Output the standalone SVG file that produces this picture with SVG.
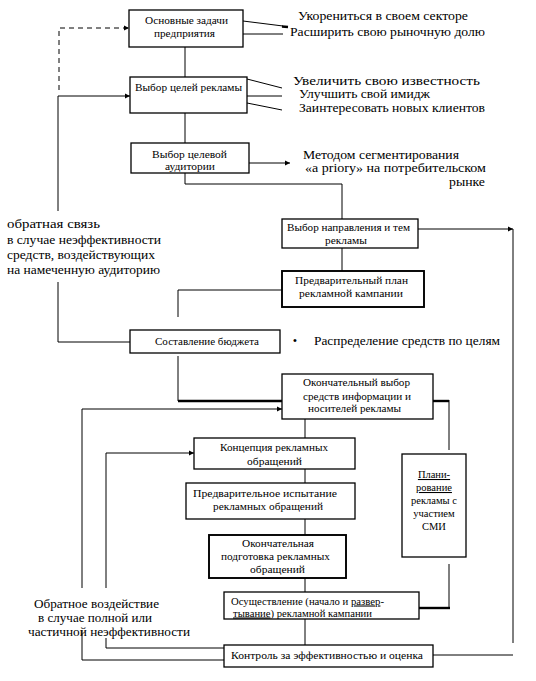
<svg xmlns="http://www.w3.org/2000/svg" width="536" height="681" viewBox="0 0 536 681">
<defs>
<style>
.box{fill:#fff;stroke:#000;stroke-width:1.3}
.thick{stroke-width:1.9}
.bt{font-size:10.5px;fill:#000}
.st{font-size:12.5px;fill:#000}
.ln{fill:none;stroke:#000;stroke-width:1}
.tl{fill:none;stroke:#000;stroke-width:2.4}
.ds{fill:none;stroke:#000;stroke-width:1;stroke-dasharray:5 4}
.ar{marker-end:url(#arr)}
</style>
<marker id="arr" markerWidth="6" markerHeight="6" refX="5" refY="3" orient="auto" markerUnits="userSpaceOnUse">
<path d="M0,0.5 L5,3 L0,5.5 Z" fill="#000"/>
</marker>
</defs>
<rect width="536" height="681" fill="#fff"/>

<g id="connectors">
<line class="ln" x1="185" y1="47" x2="185" y2="77"/>
<line class="ln" x1="185" y1="113" x2="185" y2="143"/>
<line class="ln ar" x1="249" y1="163" x2="290" y2="163"/>
<polyline class="ln" points="185,173 185,184 342,184 342,219"/>
<line class="ln" x1="342" y1="248" x2="342" y2="271"/>
<line class="ln ar" x1="418" y1="229" x2="513" y2="229"/>
<line class="ln" x1="513" y1="229" x2="513" y2="643"/>
<line class="ln" x1="433" y1="655" x2="513" y2="655"/>
<polyline class="ln" points="282,290 178,290 178,317"/>
<line class="ln" x1="178" y1="356" x2="178" y2="401"/>
<line class="tl" x1="178" y1="401" x2="282" y2="401"/>
<line class="tl" x1="433" y1="401" x2="449" y2="401"/>
<line class="ln" x1="449" y1="400" x2="449" y2="450"/>
<line class="ln" x1="449" y1="564" x2="449" y2="608"/>
<line class="tl" x1="419" y1="608" x2="450" y2="608"/>
<polyline class="ds ar" points="59,90 59,28 129,28"/>
<polyline class="ln ar" points="58,211 58,96 130,96"/>
<polyline class="ln" points="58,282 58,342 130,342"/>
<line class="ln" x1="305" y1="419" x2="305" y2="438"/>
<polyline class="ln ar" points="82,588 82,409 282,409"/>
<polyline class="ln ar" points="106,588 106,453 194,453"/>
<polyline class="ln" points="106,638 106,648 224,648"/>
<polyline class="ln" points="82,630 82,660 224,660"/>
<line class="ln" x1="305" y1="469" x2="305" y2="483"/>
<line class="ln" x1="305" y1="519" x2="305" y2="535"/>
<line class="ln" x1="305" y1="578" x2="305" y2="592"/>
<line class="ln" x1="305" y1="619" x2="305" y2="645"/>
<line class="ln" x1="243" y1="21" x2="283" y2="26"/>
<line class="tl" x1="282" y1="26.5" x2="288" y2="27"/>
<line class="ln" x1="243" y1="34" x2="283" y2="34"/>
<line class="ln" x1="247" y1="79" x2="282" y2="88"/>
<line class="ln" x1="247" y1="96" x2="282" y2="96"/>
<line class="ln" x1="247" y1="103" x2="282" y2="110"/>
</g>

<g font-family="Liberation Serif, Times New Roman, DejaVu Serif, serif">
<g id="n1"><rect class="box" x="129" y="10" width="114" height="37"/>
<text class="bt" x="145" y="23.5" textLength="83" lengthAdjust="spacingAndGlyphs">Основные задачи</text>
<text class="bt" x="154" y="37" textLength="61" lengthAdjust="spacingAndGlyphs">предприятия</text></g>

<g id="n2"><rect class="box" x="130" y="77" width="117" height="36"/>
<text class="bt" x="135" y="90.5" textLength="107" lengthAdjust="spacingAndGlyphs">Выбор целей рекламы</text></g>

<g id="n3"><rect class="box" x="131" y="143" width="118" height="30"/>
<text class="bt" x="152" y="157.5" textLength="75" lengthAdjust="spacingAndGlyphs">Выбор целевой</text>
<text class="bt" x="165" y="169.5" textLength="50" lengthAdjust="spacingAndGlyphs">аудитории</text></g>

<g id="n4"><rect class="box" x="282" y="219" width="136" height="29"/>
<text class="bt" x="287" y="230.5" textLength="123" lengthAdjust="spacingAndGlyphs">Выбор направления и тем</text>
<text class="bt" x="325" y="243.5" textLength="42" lengthAdjust="spacingAndGlyphs">рекламы</text></g>

<g id="n5"><rect class="box thick" x="282" y="271" width="142" height="36"/>
<text class="bt" x="295" y="283.5" textLength="113" lengthAdjust="spacingAndGlyphs">Предварительный план</text>
<text class="bt" x="299" y="296.5" textLength="104" lengthAdjust="spacingAndGlyphs">рекламной кампании</text></g>

<g id="n6"><rect class="box" x="130" y="330" width="150" height="23"/>
<text class="bt" x="155" y="344.5" textLength="104" lengthAdjust="spacingAndGlyphs">Составление бюджета</text></g>

<g id="n7"><rect class="box" x="282" y="374" width="151" height="45"/>
<text class="bt" x="303" y="385.5" textLength="107" lengthAdjust="spacingAndGlyphs">Окончательный выбор</text>
<text class="bt" x="303" y="399.5" textLength="108" lengthAdjust="spacingAndGlyphs">средств информации и</text>
<text class="bt" x="308" y="411.5" textLength="93" lengthAdjust="spacingAndGlyphs">носителей рекламы</text></g>

<g id="n8"><rect class="box" x="402" y="454" width="64" height="103"/>
<text class="bt" x="434" y="478" text-anchor="middle" text-decoration="underline">Плани-</text>
<text class="bt" x="434" y="491" text-anchor="middle" text-decoration="underline">рование</text>
<text class="bt" x="434" y="504" text-anchor="middle">рекламы с</text>
<text class="bt" x="434" y="517" text-anchor="middle">участием</text>
<text class="bt" x="434" y="530" text-anchor="middle">СМИ</text></g>

<g id="n9"><rect class="box" x="194" y="438" width="161" height="31"/>
<text class="bt" x="220" y="450.5" textLength="108" lengthAdjust="spacingAndGlyphs">Концепция рекламных</text>
<text class="bt" x="247" y="464.5" textLength="55" lengthAdjust="spacingAndGlyphs">обращений</text></g>

<g id="n10"><rect class="box" x="186" y="483" width="169" height="36"/>
<text class="bt" x="193" y="497" textLength="144" lengthAdjust="spacingAndGlyphs">Предварительное испытание</text>
<text class="bt" x="213" y="510" textLength="110" lengthAdjust="spacingAndGlyphs">рекламных обращений</text></g>

<g id="n11"><rect class="box thick" x="209" y="535" width="137" height="43"/>
<text class="bt" x="242" y="547" textLength="72" lengthAdjust="spacingAndGlyphs">Окончательная</text>
<text class="bt" x="221" y="560" textLength="109" lengthAdjust="spacingAndGlyphs">подготовка рекламных</text>
<text class="bt" x="250" y="573" textLength="55" lengthAdjust="spacingAndGlyphs">обращений</text></g>

<g id="n12"><rect class="box" x="224" y="592" width="195" height="27"/>
<text class="bt" x="231" y="604.5" textLength="153" lengthAdjust="spacingAndGlyphs">Осуществление (начало и <tspan text-decoration="underline">развер</tspan>-</text>
<text class="bt" x="233" y="616.5" textLength="139" lengthAdjust="spacingAndGlyphs"><tspan text-decoration="underline">тывание</tspan>) рекламной кампании</text></g>

<g id="n13"><rect class="box" x="224" y="645" width="209" height="22"/>
<text class="bt" x="231" y="659" textLength="192" lengthAdjust="spacingAndGlyphs">Контроль за эффективностью и оценка</text></g>

<g id="labels">
<text class="st" x="298" y="20" textLength="170" lengthAdjust="spacingAndGlyphs">Укорениться в своем секторе</text>
<text class="st" x="290" y="36" textLength="195" lengthAdjust="spacingAndGlyphs">Расширить свою рыночную долю</text>
<text class="st" x="293" y="85" textLength="187" lengthAdjust="spacingAndGlyphs">Увеличить свою известность</text>
<text class="st" x="299" y="98" textLength="131" lengthAdjust="spacingAndGlyphs">Улучшить свой имидж</text>
<text class="st" x="299" y="112" textLength="186" lengthAdjust="spacingAndGlyphs">Заинтересовать новых клиентов</text>
<text class="st" x="303" y="159" textLength="156" lengthAdjust="spacingAndGlyphs">Методом сегментирования</text>
<text class="st" x="305" y="172" textLength="181" lengthAdjust="spacingAndGlyphs">«a priory» на потребительском</text>
<text class="st" x="449" y="186" textLength="36" lengthAdjust="spacingAndGlyphs">рынке</text>
<text class="st" x="295" y="345" text-anchor="middle">•</text>
<text class="st" x="314" y="345" textLength="186" lengthAdjust="spacingAndGlyphs">Распределение средств по целям</text>
<text class="st" x="7" y="228" textLength="93" lengthAdjust="spacingAndGlyphs">обратная связь</text>
<text class="st" x="7" y="244" textLength="154" lengthAdjust="spacingAndGlyphs">в случае неэффективности</text>
<text class="st" x="7" y="259" textLength="148" lengthAdjust="spacingAndGlyphs">средств, воздействующих</text>
<text class="st" x="7" y="274" textLength="153" lengthAdjust="spacingAndGlyphs">на намеченную аудиторию</text>
<text class="st" x="34" y="608" textLength="125" lengthAdjust="spacingAndGlyphs">Обратное воздействие</text>
<text class="st" x="38" y="622" textLength="114" lengthAdjust="spacingAndGlyphs">в случае полной или</text>
<text class="st" x="28" y="636" textLength="162" lengthAdjust="spacingAndGlyphs">частичной неэффективности</text>
</g>
</g>
</svg>
